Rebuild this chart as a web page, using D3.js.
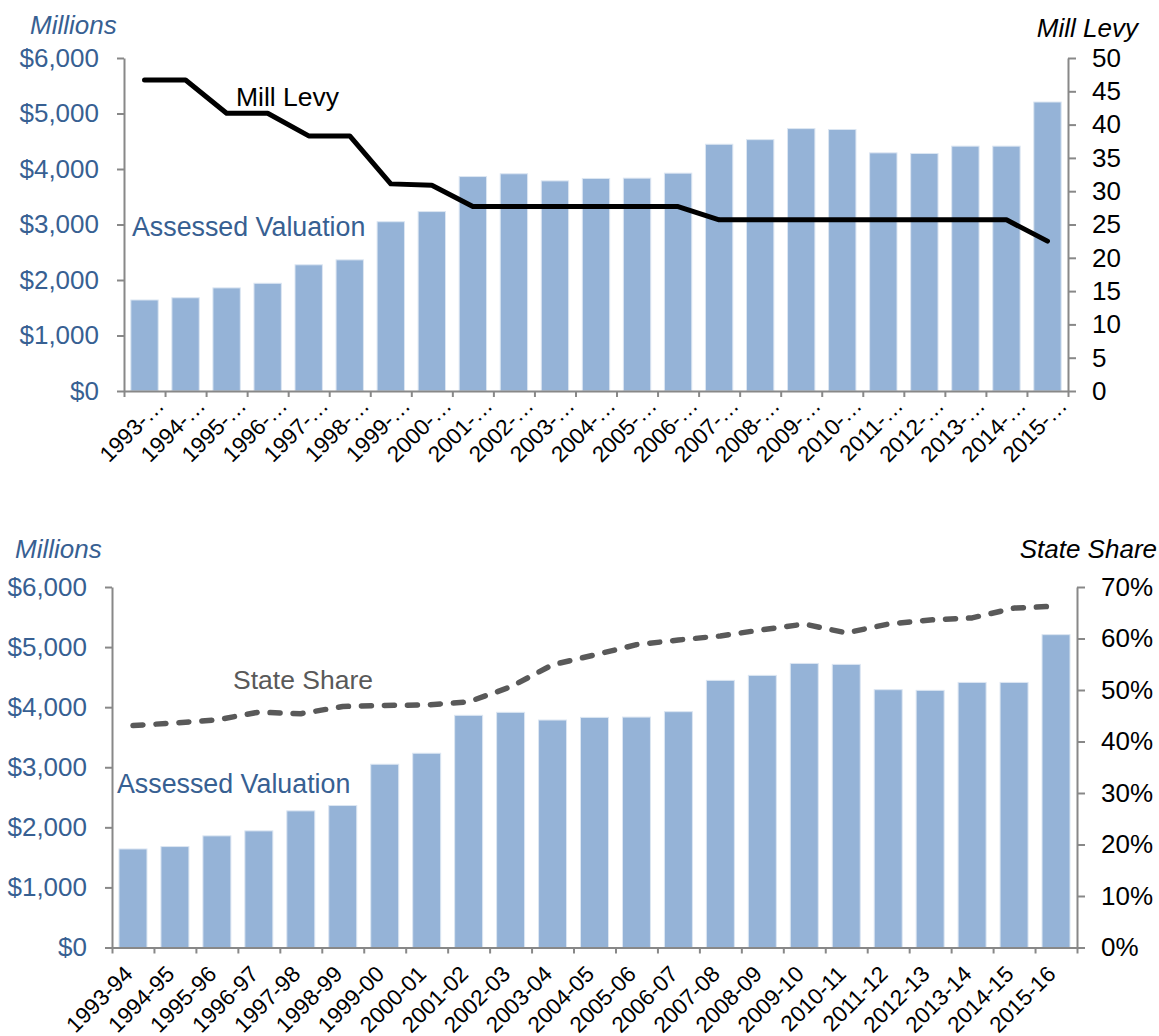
<!DOCTYPE html>
<html>
<head>
<meta charset="utf-8">
<script src="https://cdn.jsdelivr.net/npm/d3@7"></script>
<style>
  body { margin: 0; background: #fff; }
  svg text { font-family: Arial, "Liberation Sans", sans-serif; }
</style>
</head>
<body>
<svg id="chart" width="1159" height="1036"></svg>
<script>
// values
const categories = ['1993-94', '1994-95', '1995-96', '1996-97', '1997-98', '1998-99', '1999-00', '2000-01',
  '2001-02', '2002-03', '2003-04', '2004-05', '2005-06', '2006-07', '2007-08', '2008-09', '2009-10',
  '2010-11', '2011-12', '2012-13', '2013-14', '2014-15', '2015-16']
// assessed valuation, $ millions
const assessedValuation = [1640, 1680, 1858, 1941, 2274, 2363, 3050, 3233, 3864, 3914, 3786, 3830,
  3835, 3925, 4446, 4529, 4728, 4712, 4291, 4280, 4412, 4412, 5207]
const millLevy = [46.7, 46.7, 41.7, 41.7, 38.3, 38.3, 31.1, 30.9, 27.7, 27.7, 27.7, 27.7,
  27.7, 27.7, 25.7, 25.7, 25.7, 25.7, 25.7, 25.7, 25.7, 25.7, 22.5]
// state share, percent
const stateShare = [43.1, 43.6, 44.2, 45.7, 45.4, 46.8, 47.0, 47.1, 47.7, 50.6, 54.9, 56.8,
  58.8, 59.7, 60.5, 61.7, 62.8, 61.1, 62.8, 63.6, 64.0, 65.9, 66.3]
const dollarTicks = [0, 1000, 2000, 3000, 4000, 5000, 6000]
const levyTicks = [0, 5, 10, 15, 20, 25, 30, 35, 40, 45, 50]
const shareTicks = [0, 10, 20, 30, 40, 50, 60, 70]

const BLUE = '#376092'
const AXIS = '#888888'
const BAR = '#95B3D7'

const svg = d3.select('#chart')

function styleAxis (g, color) {
  g.select('.domain').attr('stroke', AXIS).attr('stroke-width', 2)
  g.selectAll('.tick line').attr('stroke', AXIS).attr('stroke-width', 2)
  g.selectAll('.tick text').attr('fill', color).attr('font-size', 26)
    .style('font-family', 'Arial, "Liberation Sans", sans-serif')
}

function drawPanel (cfg) {
  const g = svg.append('g')

  const x = d3.scaleBand().domain(categories)
    .range([cfg.left, cfg.right]).paddingInner(0.333).paddingOuter(0.1665)
  const xb = d3.scaleLinear().domain([0, categories.length]).range([cfg.left, cfg.right])
  const y = d3.scaleLinear().domain([0, 6000]).range([cfg.bottom, cfg.top])
  const y2 = d3.scaleLinear().domain(cfg.y2Domain).range([cfg.bottom, cfg.top])

  // bars
  g.selectAll('rect.bar')
    .data(assessedValuation)
    .enter()
    .append('rect')
    .attr('class', 'bar')
    .attr('x', (d, i) => x(categories[i]))
    .attr('width', x.bandwidth())
    .attr('y', d => y(d))
    .attr('height', d => y(0) - y(d))
    .attr('fill', BAR)
    .attr('stroke', '#dce6f2')
    .attr('stroke-width', 1)

  // x axis, ticks on the category boundaries
  const xAxis = g.append('g')
    .attr('transform', `translate(0,${cfg.bottom})`)
    .call(d3.axisBottom(xb).tickValues(d3.range(0, categories.length + 1))
      .tickSize(6).tickSizeOuter(0).tickFormat(''))
  styleAxis(xAxis, '#000')

  g.selectAll('text.xlab')
    .data(categories)
    .enter()
    .append('text')
    .attr('class', 'xlab')
    .attr('text-anchor', 'end')
    .attr('font-size', 22.5)
    .attr('fill', '#000')
    .attr('transform', (d, i) => {
      const px = x(d) + x.bandwidth() / 2 + cfg.labelDx
      return `translate(${px},${cfg.bottom + cfg.labelDy}) rotate(-45)`
    })
    .text(cfg.labelText)

  const yAxis = g.append('g')
    .attr('transform', `translate(${cfg.left},0)`)
    .call(d3.axisLeft(y).tickValues(dollarTicks).tickSize(7).tickSizeOuter(0).tickPadding(18)
      .tickFormat(d => '$' + d3.format(',')(d)))
  styleAxis(yAxis, BLUE)

  const y2Axis = g.append('g')
    .attr('transform', `translate(${cfg.right},0)`)
    .call(d3.axisRight(y2).tickValues(cfg.y2Ticks).tickSize(8).tickSizeOuter(0).tickPadding(16)
      .tickFormat(cfg.y2Format))
  styleAxis(y2Axis, '#000')

  // line on the secondary axis
  const line = d3.line()
    .x((d, i) => x(categories[i]) + x.bandwidth() / 2)
    .y(d => y2(d))
  const path = g.append('path')
    .datum(cfg.lineData)
    .attr('d', line)
    .attr('fill', 'none')
    .attr('stroke', cfg.lineColor)
    .attr('stroke-width', cfg.lineWidth)
    .attr('stroke-linejoin', 'round')
    .attr('stroke-linecap', 'round')
  if (cfg.dash) path.attr('stroke-dasharray', cfg.dash)

  // titles and annotations
  g.append('text').attr('x', cfg.leftTitle[0]).attr('y', cfg.leftTitle[1])
    .attr('font-size', 26).attr('font-style', 'italic').attr('fill', BLUE).text('Millions')
  g.append('text').attr('x', cfg.rightTitle[0]).attr('y', cfg.rightTitle[1])
    .attr('font-size', 26).attr('font-style', 'italic').attr('fill', '#000')
    .attr('text-anchor', 'end').text(cfg.lineName)
  g.append('text').attr('x', cfg.lineLabel[0]).attr('y', cfg.lineLabel[1])
    .attr('font-size', 26.5).attr('fill', cfg.lineLabelColor).text(cfg.lineName)
  g.append('text').attr('x', cfg.barLabel[0]).attr('y', cfg.barLabel[1])
    .attr('font-size', 26.8).attr('fill', BLUE).text('Assessed Valuation')
}

drawPanel({
  left: 124, right: 1068, top: 58, bottom: 391,
  y2Domain: [0, 50], y2Ticks: levyTicks, y2Format: d => d,
  lineData: millLevy, lineColor: '#000', lineWidth: 5, dash: null,
  lineName: 'Mill Levy', lineLabel: [236, 106], lineLabelColor: '#000',
  leftTitle: [30, 34], rightTitle: [1138, 37], barLabel: [132, 236],
  labelDx: 21, labelDy: 16, labelText: d => d.slice(0, 5) + '\u2026'
})

drawPanel({
  left: 112, right: 1077, top: 587, bottom: 947.5,
  y2Domain: [0, 70], y2Ticks: shareTicks, y2Format: d => d + '%',
  lineData: stateShare, lineColor: '#595959', lineWidth: 5.5, dash: '10 13',
  lineName: 'State Share', lineLabel: [233, 689], lineLabelColor: '#595959',
  leftTitle: [15, 558], rightTitle: [1157, 558], barLabel: [117, 793],
  labelDx: 1, labelDy: 28, labelText: d => d
})
</script>
</body>
</html>
